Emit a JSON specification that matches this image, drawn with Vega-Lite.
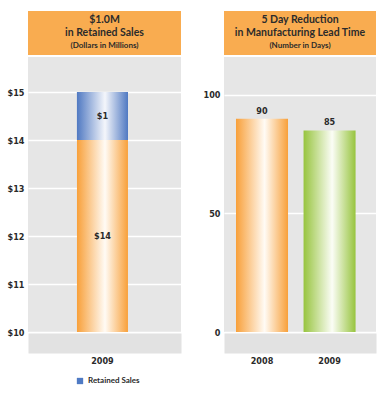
{
  "$schema": "https://vega.github.io/schema/vega-lite/v6.json",
  "background": "white",
  "padding": {"left": 7, "top": 11, "right": 2, "bottom": 2},
  "config": {
    "font": "DejaVu Sans Condensed",
    "view": {"stroke": null},
    "concat": {"spacing": 22},
    "axis": {"labelFont": "DejaVu Sans Condensed", "labelColor": "#2a2a2a", "labelFontSize": 9}
  },
  "datasets": {
    "hdrL": [
      {"line": 1, "text": "$1.0M"},
      {"line": 2, "text": "in Retained Sales"},
      {"line": 3, "text": "(Dollars in Millions)"}
    ],
    "hdrR": [
      {"line": 1, "text": "5 Day Reduction"},
      {"line": 2, "text": "in Manufacturing Lead Time"},
      {"line": 3, "text": "(Number in Days)"}
    ],
    "sales": [
      {"year": "2009", "series": "Base", "start": 0, "end": 14, "label": "$14"},
      {"year": "2009", "series": "Retained Sales", "start": 14, "end": 15, "label": "$1"}
    ],
    "lead": [
      {"year": "2008", "days": 90},
      {"year": "2009", "days": 85}
    ]
  },
  "hconcat": [
    {
      "spacing": 2,
      "vconcat": [
        {
          "width": 153, "height": 44,
          "view": {"fill": "#F9AC50", "stroke": null},
          "data": {"name": "hdrL"},
          "encoding": {
            "y": {"field": "line", "type": "ordinal", "axis": null, "scale": {"padding": 0.7}},
            "text": {"field": "text"}
          },
          "layer": [
            {"transform": [{"filter": "datum.line < 3"}], "mark": {"type": "text", "font": "Lato", "fontWeight": "bold", "fontSize": 10.5, "color": "#2b2b2b"}},
            {"transform": [{"filter": "datum.line == 3"}], "mark": {"type": "text", "font": "Lato", "fontWeight": "bold", "fontSize": 8, "color": "#2b2b2b"}}
          ]
        },
        {
          "width": 153, "height": 275,
          "view": {"fill": "#E6E6E6", "stroke": null},
          "data": {"name": "sales"},
          "encoding": {
            "x": {"field": "year", "type": "nominal", "title": null,
                  "scale": {"paddingInner": 0.2, "paddingOuter": 0.8, "align": 0.48},
                  "axis": {"domain": true, "domainColor": "#E2E2E2", "domainWidth": 20, "domainCap": "butt", "offset": 11, "ticks": false, "labelAngle": 0, "labelPadding": 13, "labelFontWeight": "bold"}}
          },
          "layer": [
            {
              "transform": [{"filter": "datum.series == 'Retained Sales'"}],
              "mark": {"type": "bar", "clip": true},
              "encoding": {
                "y": {"field": "start", "type": "quantitative", "title": null,
                      "scale": {"domain": [10, 15.73], "nice": false, "zero": false},
                      "axis": {"values": [10, 11, 12, 13, 14, 15], "labelExpr": "'$' + datum.value", "domain": false, "ticks": false, "grid": true, "gridColor": "white", "gridWidth": 1.5, "labelPadding": 4, "labelFontWeight": "bold"}},
                "y2": {"field": "end"},
                "color": {"field": "series", "type": "nominal", "scale": {"range": ["#4F7AC4"]},
                          "legend": {"title": null, "orient": "none", "legendX": 48, "legendY": 366, "direction": "horizontal", "symbolType": "square", "symbolSize": 40, "labelFontSize": 8, "labelFont": "Lato", "labelFontWeight": "bold", "labelColor": "#2a2a2a"}}
              }
            },
            {
              "transform": [{"filter": "datum.series == 'Base'"}],
              "mark": {"type": "bar", "clip": true,
                       "color": {"gradient": "linear", "x1": 0, "x2": 1, "y1": 0, "y2": 0,
                                 "stops": [{"offset": 0, "color": "#F8A03A"}, {"offset": 0.55, "color": "#FFFBF5"}, {"offset": 1, "color": "#F8A03A"}]}},
              "encoding": {"y": {"field": "start", "type": "quantitative"}, "y2": {"field": "end"}}
            },
            {
              "transform": [{"filter": "datum.series == 'Retained Sales'"}],
              "mark": {"type": "bar", "clip": true,
                       "color": {"gradient": "linear", "x1": 0, "x2": 1, "y1": 0, "y2": 0,
                                 "stops": [{"offset": 0, "color": "#5079C2"}, {"offset": 0.55, "color": "#F4F6FB"}, {"offset": 1, "color": "#5079C2"}]}},
              "encoding": {"y": {"field": "start", "type": "quantitative"}, "y2": {"field": "end"}}
            },
            {
              "transform": [{"calculate": "(max(datum.start, 10) + datum.end) / 2", "as": "mid"}],
              "mark": {"type": "text", "fontSize": 9, "fontWeight": "bold", "color": "#2a2a2a"},
              "encoding": {"y": {"field": "mid", "type": "quantitative"}, "text": {"field": "label"}}
            }
          ]
        }
      ]
    },
    {
      "spacing": 2,
      "vconcat": [
        {
          "width": 152, "height": 44,
          "view": {"fill": "#F9AC50", "stroke": null},
          "data": {"name": "hdrR"},
          "encoding": {
            "y": {"field": "line", "type": "ordinal", "axis": null, "scale": {"padding": 0.7}},
            "text": {"field": "text"}
          },
          "layer": [
            {"transform": [{"filter": "datum.line < 3"}], "mark": {"type": "text", "font": "Lato", "fontWeight": "bold", "fontSize": 10.5, "color": "#2b2b2b"}},
            {"transform": [{"filter": "datum.line == 3"}], "mark": {"type": "text", "font": "Lato", "fontWeight": "bold", "fontSize": 8, "color": "#2b2b2b"}}
          ]
        },
        {
          "width": 152, "height": 275,
          "view": {"fill": "#E6E6E6", "stroke": null},
          "data": {"name": "lead"},
          "encoding": {
            "x": {"field": "year", "type": "nominal", "title": null,
                  "scale": {"paddingInner": 0.23, "paddingOuter": 0.24, "align": 0.37},
                  "axis": {"domain": true, "domainColor": "#E2E2E2", "domainWidth": 20, "domainCap": "butt", "offset": 11, "ticks": false, "labelAngle": 0, "labelPadding": 13, "labelFontWeight": "bold"}},
            "y": {"field": "days", "type": "quantitative", "title": null,
                  "scale": {"domain": [0, 116], "nice": false},
                  "axis": {"values": [0, 50, 100], "domain": false, "ticks": false, "grid": true, "gridColor": "white", "gridWidth": 1.5, "labelPadding": 4, "labelFontWeight": "bold"}}
          },
          "layer": [
            {
              "transform": [{"filter": "datum.year == '2008'"}],
              "mark": {"type": "bar",
                       "color": {"gradient": "linear", "x1": 0, "x2": 1, "y1": 0, "y2": 0,
                                 "stops": [{"offset": 0, "color": "#F8A03A"}, {"offset": 0.55, "color": "#FFFBF5"}, {"offset": 1, "color": "#F8A03A"}]}}
            },
            {
              "transform": [{"filter": "datum.year == '2009'"}],
              "mark": {"type": "bar",
                       "color": {"gradient": "linear", "x1": 0, "x2": 1, "y1": 0, "y2": 0,
                                 "stops": [{"offset": 0, "color": "#97C43E"}, {"offset": 0.55, "color": "#FBFDF6"}, {"offset": 1, "color": "#97C43E"}]}}
            },
            {
              "mark": {"type": "text", "fontSize": 9, "fontWeight": "bold", "color": "#2a2a2a", "dy": -8},
              "encoding": {"text": {"field": "days"}}
            }
          ]
        }
      ]
    }
  ]
}
